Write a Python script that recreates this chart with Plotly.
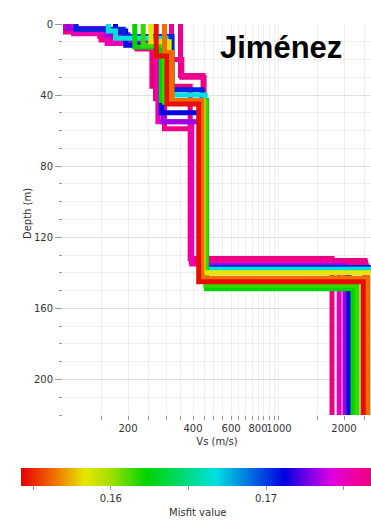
import math
import plotly.graph_objects as go
from plotly.colors import sample_colorscale

# ---------------- data ----------------
# misfit value of each Vs profile (drawn worst first, best last)
misfit = [0.1770, 0.1768, 0.1766, 0.1764, 0.1752, 0.1732, 0.1712,
          0.1705, 0.1667, 0.1623, 0.1615, 0.1583, 0.1563, 0.1545]

# Vs of each layer (m/s), last value = half-space
vs_layers = [
    [100, 148, 185, 220, 258, 388, 1760],
    [108, 150, 268, 295, 392, 2520],
    [318, 355, 450, 2500],
    [350, 445, 2550],
    [112, 160, 275, 395, 1900],
    [105, 158, 200, 290, 455, 2020],
    [175, 195, 285, 450, 2110],
    [115, 190, 320, 440, 2800],
    [162, 175, 300, 455, 2900],
    [215, 285, 462, 2200],
    [235, 295, 458, 2300],
    [255, 310, 445, 2750],
    [295, 320, 440, 2580],
    [270, 303, 425, 2450],
]

# depth of the bottom of each layer (m)
layer_bottoms = [
    [4.5, 7, 10, 14, 35, 132],
    [4, 9, 42, 59, 134],
    [20, 30, 133],
    [29, 136],
    [5.5, 11, 55, 135],
    [2.5, 6, 9, 55, 136],
    [4, 12, 50, 137],
    [3, 7, 37, 137],
    [4, 8, 40, 138],
    [13, 43, 149],
    [12, 44, 147],
    [10, 43, 140],
    [16, 43, 143],
    [18, 45, 145],
]

x_tick_vals = [200, 400, 600, 800, 1000, 2000]
x_tick_text = ["200", "400", "600", "800", "1000", "2000"]
x_minor_vals = [150, 250, 300, 350, 450, 500, 550, 650, 700, 750, 850, 900, 950, 1500, 2500]
y_tick_vals = [0, 40, 80, 120, 160, 200]
cbar_tick_vals = [0.155, 0.16, 0.165, 0.17, 0.175]
cbar_tick_text = ["", "0.16", "", "0.17", ""]

misfit_min = 0.1542
misfit_max = 0.1770

colorscale = [
    [0.00, "#e50000"], [0.09, "#f06a00"], [0.18, "#e6e600"], [0.25, "#a6e000"],
    [0.355, "#00d400"], [0.55, "#00e0e0"], [0.745, "#0000e0"], [0.82, "#8800e8"],
    [0.88, "#e000e0"], [0.95, "#f0009a"], [1.00, "#ec0080"],
]

FONT = "DejaVu Sans"
fig = go.Figure()

for m, vs, bots in zip(misfit, vs_layers, layer_bottoms):
    t = (m - misfit_min) / (misfit_max - misfit_min)
    t = min(max(t, 0), 1)
    col = sample_colorscale(colorscale, [t])[0]
    xs = list(vs) + [vs[-1]]
    ys = [0] + list(bots) + [240]
    fig.add_trace(go.Scatter(
        x=xs, y=ys, mode="lines",
        line=dict(color=col, width=5, shape="vh"),
        hoverinfo="skip", showlegend=False,
    ))

# colorbar carrier
fig.add_trace(go.Scatter(
    x=[None], y=[None], mode="markers", showlegend=False, hoverinfo="skip",
    marker=dict(
        color=[misfit_min], colorscale=colorscale, cmin=misfit_min, cmax=misfit_max,
        showscale=True,
        colorbar=dict(
            orientation="h", xref="container", yref="container",
            x=25 / 371, xanchor="left", y=(523 - 468) / 523, yanchor="top",
            len=354, lenmode="pixels", thickness=18, outlinewidth=0,
            xpad=0, ypad=0,
            ticks="outside", ticklen=4, tickcolor="#999",
            tickvals=cbar_tick_vals, ticktext=cbar_tick_text,
            tickfont=dict(family=FONT, size=10, color="#333"),
            title=dict(text="Misfit value", side="bottom",
                       font=dict(family=FONT, size=10, color="#333")),
        ),
    ),
))

grid = "rgba(0,0,0,0.06)"
fig.update_layout(
    width=371, height=523,
    margin=dict(l=63, r=0, t=24, b=108),
    paper_bgcolor="white", plot_bgcolor="white",
    showlegend=False,
    xaxis=dict(
        type="log", range=[2, math.log10(2667)],
        tickvals=x_tick_vals, ticktext=x_tick_text, tickangle=0,
        ticks="outside", ticklen=4, tickcolor="#999",
        tickfont=dict(family=FONT, size=10, color="#333"),
        showgrid=True, gridcolor=grid, zeroline=False, showline=False,
        minor=dict(tickvals=x_minor_vals, ticks="outside", ticklen=4,
                   tickcolor="#999", showgrid=True, gridcolor=grid),
        title=dict(text="Vs (m/s)", font=dict(family=FONT, size=10, color="#333"),
                   standoff=4),
    ),
    yaxis=dict(
        range=[220, 0], tickvals=y_tick_vals,
        ticks="outside", ticklen=7, tickcolor="#999",
        tickfont=dict(family=FONT, size=10, color="#333"),
        showgrid=True, gridcolor=grid, zeroline=False, showline=False,
        minor=dict(dtick=10, tick0=0, ticks="outside", ticklen=3,
                   tickcolor="#999", showgrid=True, gridcolor=grid),
    ),
    annotations=[
        dict(
            text="<b>Jiménez</b>", xref="paper", yref="paper",
            x=(281 - 63) / 308, y=1 - (47 - 24) / 391,
            xanchor="center", yanchor="middle", showarrow=False,
            font=dict(family="Liberation Sans", size=31, color="black"),
        ),
        dict(
            text="Depth (m)", xref="paper", yref="paper",
            x=(28 - 63) / 308, y=1 - (214 - 24) / 391,
            xanchor="center", yanchor="middle", showarrow=False, textangle=-90,
            font=dict(family=FONT, size=10, color="#333"),
        ),
    ],
)

fig.write_html("out.html")
